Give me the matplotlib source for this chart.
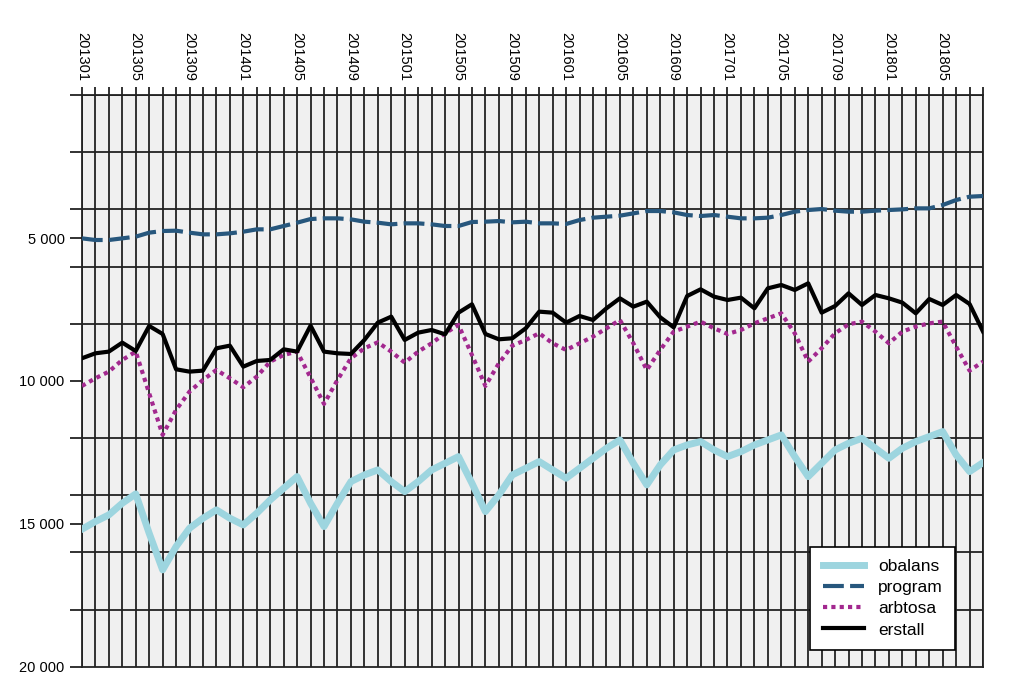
import matplotlib
matplotlib.use("Agg")
import matplotlib.pyplot as plt
from matplotlib.ticker import FixedLocator, FuncFormatter

plt.rcParams['font.family'] = ['Liberation Sans', 'DejaVu Sans']

# months 201301 .. 201808
months = [f"{y}{m:02d}" for y in range(2013, 2019) for m in range(1, 13)][:68]

program = [5012, 5070, 5070, 5012, 4953, 4813, 4755, 4744, 4813, 4872, 4872, 4837,
           4779, 4697, 4697, 4580, 4464, 4336, 4312, 4312, 4347, 4429, 4464, 4522,
           4487, 4487, 4522, 4580, 4580, 4440, 4429, 4406, 4452, 4429, 4487, 4487,
           4510, 4371, 4289, 4254, 4219, 4138, 4056, 4056, 4103, 4196, 4231, 4196,
           4254, 4312, 4312, 4289, 4196, 4079, 4021, 3986, 4044, 4079, 4079, 4044,
           4021, 3998, 3963, 3963, 3846, 3671, 3555, 3531]

erstall = [9207, 9033, 8974, 8660, 8951, 8077, 8357, 9592, 9674, 9639, 8858, 8765,
           9499, 9301, 9266, 8893, 8974, 8065, 8974, 9033, 9056, 8566, 7960, 7751,
           8566, 8310, 8217, 8368, 7611, 7319, 8357, 8543, 8508, 8158, 7576, 7611,
           7960, 7727, 7867, 7459, 7110, 7401, 7226, 7774, 8124, 7028, 6795, 7051,
           7168, 7086, 7459, 6760, 6643, 6818, 6585, 7611, 7378, 6935, 7343, 6993,
           7110, 7261, 7634, 7133, 7343, 6993, 7308, 8275]

arbtosa = [10175, 9907, 9674, 9266, 8974, 10431, 11888, 11014, 10373, 9965, 9615, 9907,
           10221, 9848, 9324, 9091, 8974, 9883, 10804, 9965, 9207, 8858, 8648, 8974,
           9359, 8974, 8683, 8333, 8042, 9091, 10175, 9382, 8765, 8566, 8333, 8683,
           8916, 8683, 8450, 8158, 7867, 8683, 9615, 8916, 8275, 8100, 7925, 8158,
           8357, 8217, 7984, 7809, 7634, 8333, 9324, 8858, 8333, 8019, 7925, 8275,
           8683, 8275, 8100, 7984, 7925, 8800, 9639, 9324]

obalans = [15186, 14918, 14685, 14277, 13951, 15326, 16608, 15793, 15152, 14802, 14510, 14802,
           15035, 14627, 14161, 13753, 13345, 14277, 15093, 14277, 13520, 13287, 13112, 13520,
           13869, 13520, 13112, 12879, 12646, 13578, 14569, 13986, 13287, 13054, 12820, 13112,
           13403, 13054, 12704, 12354, 12063, 12879, 13636, 12937, 12413, 12238, 12121, 12413,
           12646, 12471, 12238, 12063, 11888, 12646, 13345, 12879, 12413, 12179, 12005, 12354,
           12704, 12354, 12121, 11946, 11771, 12587, 13170, 12856]

x = list(range(len(months)))

fig = plt.figure(figsize=(10.24, 6.99), dpi=100)
ax = fig.add_axes([0.080, 0.046, 0.880, 0.818])
ax.set_facecolor("#f0f0f0")

ax.plot(x, obalans, color="#9dd5df", lw=5, label="obalans", zorder=3)
ax.plot(x, program, color="#27577d", lw=3, ls=(0, (5, 1.5)), label="program", zorder=3)
ax.plot(x, arbtosa, color="#a3288f", lw=3, ls=(0, (1, 1)), label="arbtosa", zorder=3)
ax.plot(x, erstall, color="black", lw=3, label="erstall", zorder=3)

ax.set_xlim(0, 67)
ax.set_ylim(20000, 0)

# x axis on top, a tick every month, label every 4th
ax.xaxis.tick_top()
ax.set_xticks(x)
ax.set_xticklabels([m if i % 4 == 0 else "" for i, m in enumerate(months)],
                   rotation=270, fontsize=10.5)
ax.tick_params(axis="x", length=6, width=1.3, color="#222222", pad=4)

# y axis: labels every 5000, grid every 2000
ax.yaxis.set_major_locator(FixedLocator([5000, 10000, 15000, 20000]))
ax.yaxis.set_minor_locator(FixedLocator(list(range(0, 20001, 2000))))
ax.yaxis.set_major_formatter(FuncFormatter(lambda v, p: f"{int(v):,}".replace(",", " ")))
ax.tick_params(axis="y", which="both", length=9, width=1.3, color="#222222", labelsize=10.5)

ax.grid(True, axis="x", color="#222222", lw=1.3, zorder=1)
ax.grid(True, axis="y", which="minor", color="#222222", lw=1.3, zorder=1)
ax.grid(False, axis="y", which="major")
for s in ax.spines.values():
    s.set_color("#222222")
    s.set_linewidth(1.3)

leg = ax.legend(loc="lower right", bbox_to_anchor=(0.969, 0.03), fontsize=12.5,
                fancybox=False, edgecolor="black", framealpha=1, handlelength=2.4,
                labelspacing=0.35, borderpad=0.7, borderaxespad=0)
leg.get_frame().set_linewidth(1.2)

plt.savefig("out.png", dpi=100)
